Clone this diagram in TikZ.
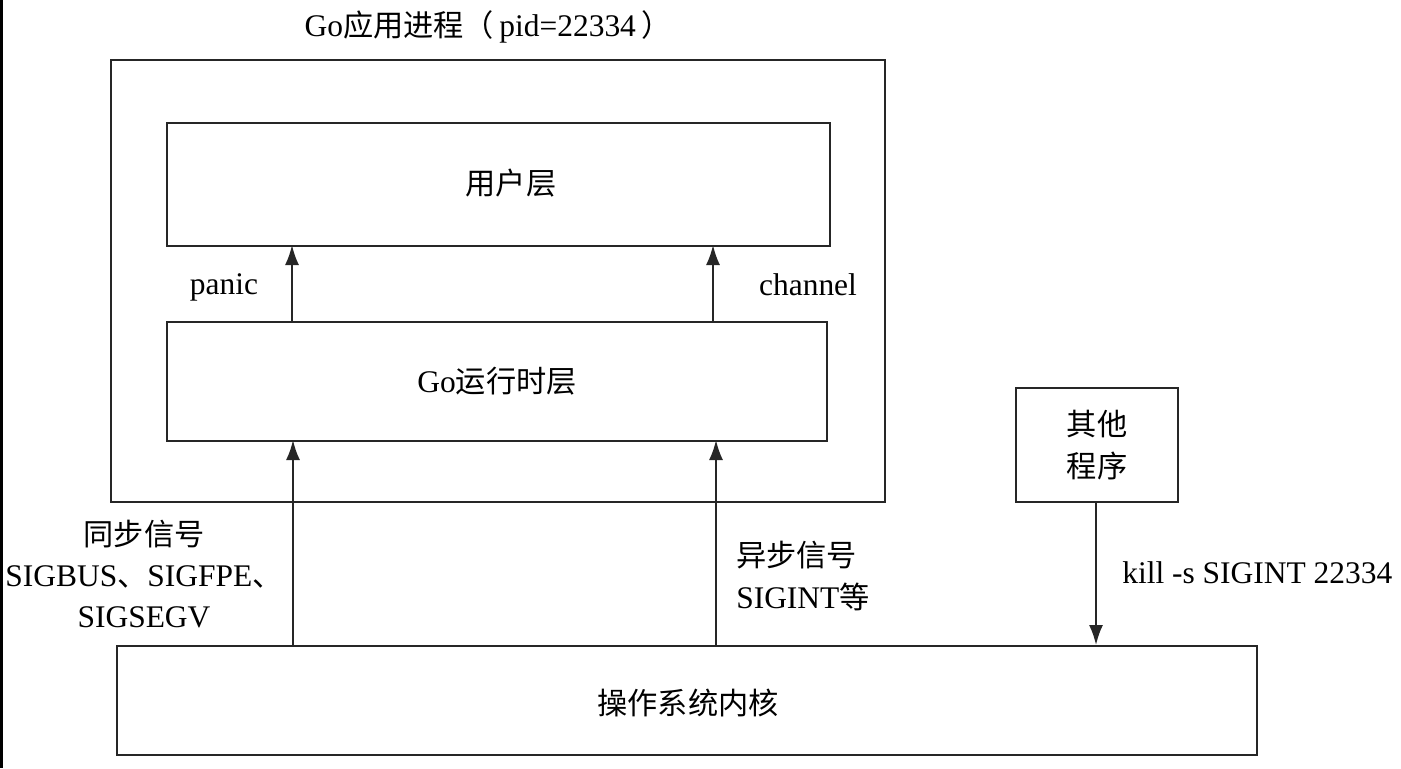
\documentclass[tikz,border=0pt]{standalone}
\usepackage{fontspec}
\setmainfont{Liberation Serif}
\newfontfamily\cjk[Scale=0.96]{Noto Sans CJK SC}
\usetikzlibrary{arrows.meta}
\begin{document}
\begin{tikzpicture}[x=0.75pt,y=-0.75pt,
  box/.style={draw=black!85,line width=1.5pt,inner sep=0pt,anchor=north west},
  lbl/.style={font=\fontsize{23.6}{31}\selectfont,inner sep=0pt},
  conn/.style={draw=black!85,line width=1.5pt,-{Latex[length=15pt,width=10.5pt]}}]
\useasboundingbox (0,0) rectangle (1401,768);
% left border rule
\fill[black] (0,0) rectangle (2.5,768);
% process frame and layers
\node[box,minimum width=774pt*0.75,minimum height=442pt*0.75] (proc) at (110,59) {};
\node[box,minimum width=663pt*0.75,minimum height=123pt*0.75] (user) at (166,122) {};
\node[box,minimum width=660pt*0.75,minimum height=119pt*0.75] (rt) at (166,321) {};
\node[box,minimum width=1140pt*0.75,minimum height=109pt*0.75] (kernel) at (116,645) {};
\node[box,minimum width=162pt*0.75,minimum height=114pt*0.75] (other) at (1015,387) {};
% texts
\node[lbl] (title) at (488,27) {Go{\cjk 应用进程（}\,pid=22334\,{\cjk ）}};
\node[lbl] (userl) at (511,183) {\cjk 用户层};
\node[lbl] (rtl) at (rt.center) {Go{\cjk 运行时层}};
\node[lbl] (kernl) at (688,703) {\cjk 操作系统内核};
\node[lbl,align=center] (otherl) at (other.center) {\cjk 其他\\\cjk 程序};
\node[lbl] (panic) at (224,287) {panic};
\node[lbl] (chan) at (808,285) {channel};
\node[lbl,align=center] (sync) at (144,574) {{\cjk 同步信号}\\SIGBUS{\cjk 、}SIGFPE{\cjk 、}\\SIGSEGV};
\node[lbl,align=left,anchor=west] (async) at (736,576) {{\cjk 异步信号}\\SIGINT{\cjk 等}};
\node[lbl,anchor=west] (kill) at (1122,573) {kill -s SIGINT 22334};
% connectors
\coordinate (p1) at (292,321);
\coordinate (p2) at (292,245);
\coordinate (c1) at (713,321);
\coordinate (c2) at (713,245);
\coordinate (s1) at (293,645);
\coordinate (s2) at (293,440);
\coordinate (a1) at (716,645);
\coordinate (a2) at (716,440);
\coordinate (k1) at (1096,501);
\coordinate (k2) at (1096,645);
\draw[conn] (p1) -- (p2);
\draw[conn] (c1) -- (c2);
\draw[conn] (s1) -- (s2);
\draw[conn] (a1) -- (a2);
\draw[conn] (k1) -- (k2);
\end{tikzpicture}
\end{document}
